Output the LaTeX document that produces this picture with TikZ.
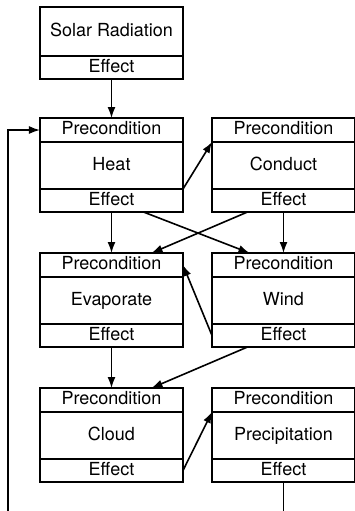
\documentclass[tikz,border=0pt]{standalone}
\usepackage{fontspec}
\setsansfont{TeX Gyre Heros}
\usetikzlibrary{arrows.meta,positioning}
\tikzstyle{part}=[draw, fill=white, align=center, minimum width=71.5pt, inner sep=0, outer sep=0, line width=0.6pt, text height=6.6pt, text depth=1.9pt]
\tikzstyle{pre}=[part, minimum height=12pt]
\tikzstyle{body}=[part, minimum height=23.5pt]
\tikzstyle{eff}=[part, minimum height=11.5pt]

\begin{document}
\begin{tikzpicture}[node distance=20.5pt and 14.5pt,>={Latex[length=5.5pt,width=4pt]},line width=0.8pt,font=\sffamily\fontsize{9}{10}\selectfont]
        \useasboundingbox (0,0) rectangle (177.5pt,-255.5pt);
        % source
        \node [part, minimum height=24.5pt] (solar) at (55.75pt,-15.75pt) {Solar Radiation};
        \node [eff] (solarE) [below=0pt of solar] {Effect};
        % row 1
        \node [pre] (heatP) [below=19.5pt of solarE] {Precondition};
        \node [body] (heat) [below=0pt of heatP] {Heat};
        \node [eff] (heatE) [below=0pt of heat] {Effect};
        \node [pre] (conductP) [right=of heatP] {Precondition};
        \node [body] (conduct) [below=0pt of conductP] {Conduct};
        \node [eff] (conductE) [below=0pt of conduct] {Effect};
        % row 2
        \node [pre] (evapP) [below=of heatE] {Precondition};
        \node [body] (evap) [below=0pt of evapP] {Evaporate};
        \node [eff] (evapE) [below=0pt of evap] {Effect};
        \node [pre] (windP) [right=of evapP] {Precondition};
        \node [body] (wind) [below=0pt of windP] {Wind};
        \node [eff] (windE) [below=0pt of wind] {Effect};
        % row 3
        \node [pre] (cloudP) [below=of evapE] {Precondition};
        \node [body] (cloud) [below=0pt of cloudP] {Cloud};
        \node [eff] (cloudE) [below=0pt of cloud] {Effect};
        \node [pre] (precipP) [right=of cloudP] {Precondition};
        \node [body] (precip) [below=0pt of precipP] {Precipitation};
        \node [eff] (precipE) [below=0pt of precip] {Effect};
        \coordinate (loop) at (4pt,-255.5pt);
        \coordinate (drain) at (precipE.south |- loop);
        \path[->]
        (solarE) edge (heatP)
        (heatE.north east) edge (conductP.south west)
        (heatE) edge (evapP)
        ([xshift=16pt]heatE.south) edge ([xshift=-17pt]windP.north)
        ([xshift=-18pt]conductE.south) edge ([xshift=20pt]evapP.north)
        (conductE) edge (windP)
        (windE.west) edge (evapP.east)
        (evapE) edge (cloudP)
        ([xshift=-18pt]windE.south) edge ([xshift=20pt]cloudP.north)
        (cloudE.east) edge (precipP.south west);
        \draw (precipE) -- (drain);
        \draw[->] (loop) |- (heatP.west);
    \end{tikzpicture}
\end{document}
